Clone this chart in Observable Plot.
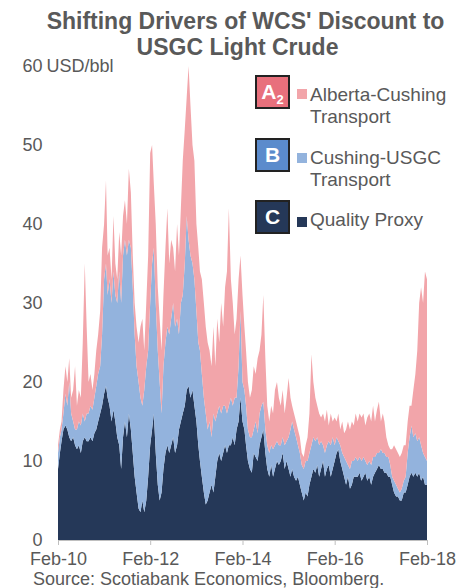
<!DOCTYPE html>
<html>
<head>
<meta charset="utf-8">
<script src="https://cdn.jsdelivr.net/npm/d3@7"></script>
<script src="https://cdn.jsdelivr.net/npm/@observablehq/plot@0.6"></script>
<style>
  body { margin: 0; background: #fff; font-family: "Liberation Sans", Arial, sans-serif; }
  #wrap { position: relative; width: 467px; height: 588px; overflow: hidden; }
  #chart { position: absolute; left: 0; top: 0; }
  .t { position: absolute; top: 8px; text-align: center; font-weight: bold; font-size: 23px; line-height: 26px; color: #595959; white-space: nowrap; }
  .box { position: absolute; left: 255px; width: 35px; height: 34px; box-sizing: border-box; border: 2px solid #222; color: #fff; font-weight: bold; font-size: 21px; text-align: center; line-height: 30px; }
  .box sub { font-size: 13px; vertical-align: -5px; line-height: 0; }
  .sq { position: absolute; left: 297px; width: 10px; height: 10px; }
  .lt { position: absolute; left: 310px; font-size: 19px; line-height: 22px; color: #595959; white-space: nowrap; }
  #source { position: absolute; left: 33px; top: 570px; font-size: 18px; line-height: 18px; color: #595959; white-space: nowrap; }
</style>
</head>
<body>
<div id="wrap">
  <div id="chart"></div>
  <div class="t" style="left:0;width:491px;top:8px;">Shifting Drivers of WCS' Discount to</div>
  <div class="t" style="left:0;width:475px;top:34px;">USGC Light Crude</div>

  <div class="box" style="top:75px;background:#e8707c;">A<sub>2</sub></div>
  <div class="sq" style="top:89px;background:#f2a5aa;"></div>
  <div class="lt" style="top:84px;">Alberta-Cushing<br>Transport</div>

  <div class="box" style="top:138px;background:#5b8bcc;">B</div>
  <div class="sq" style="top:153px;background:#93b3dd;"></div>
  <div class="lt" style="top:147px;">Cushing-USGC<br>Transport</div>

  <div class="box" style="top:200px;background:#253858;">C</div>
  <div class="sq" style="top:217px;background:#253858;"></div>
  <div class="lt" style="top:209px;">Quality Proxy</div>

  <div id="source">Source: Scotiabank Economics, Bloomberg.</div>
</div>
<script>
// Series names (stack order bottom -> top) and colours
const seriesNames = ["Quality Proxy", "Cushing-USGC Transport", "Alberta-Cushing Transport"];
const seriesColors = ["#253858", "#93b3dd", "#f2a5aa"];

const qualityProxy = [
  9, 11, 12.5, 14, 14.5, 14, 13, 12.5, 13, 12,
  11.5, 12, 11, 12.5, 13, 12.5, 12.5, 13, 12.5, 13.5,
  14, 15, 16, 17, 18.5, 19.5, 18, 17, 15, 16.5,
  15, 13, 12, 9, 13, 15, 13, 16, 14, 11,
  8, 6, 4, 3.5, 5, 3.5, 5, 8, 12, 14,
  16, 11, 7, 5, 6, 9, 11, 12, 11, 12,
  13, 11, 12, 14, 15, 16, 17, 19, 19.5, 18,
  19, 17, 15, 12, 10, 8, 6, 4.5, 5, 6,
  7, 6, 8, 10, 11, 10, 11, 12, 11, 12,
  12, 13, 12, 14, 15, 18, 15, 14, 12, 10,
  9, 8.5, 11, 10.5, 10, 12, 13, 14, 11, 9,
  8, 9.5, 8, 9, 10, 9.5, 10, 11, 9, 10,
  9, 8, 9, 8, 7.5, 8, 7, 6, 5, 6,
  5.5, 7, 8, 9, 8.5, 9.5, 8, 9, 10, 8,
  9, 9.5, 8, 9, 10, 11, 11.5, 10, 9, 8,
  7, 8, 6.5, 7, 8, 8, 8, 8.5, 7.5, 8,
  8.5, 7.5, 8, 7, 8, 8.5, 9, 9.5, 9, 9,
  8.5, 8.5, 8, 8, 7, 6, 5.5, 5.5, 5, 5,
  6, 6, 7, 8, 8.5, 8, 8.5, 8, 8.5, 7.5,
  8, 7, 7
];
const cushingUSGC = [
  2, 2, 1.5, 2, 4, 3, 7, 3.5, 2, 2,
  2.5, 3, 3.5, 3.5, 2, 3.5, 3.5, 4, 4, 4.5,
  5.5, 6, 6, 9, 14.5, 15.5, 13, 16, 15, 17.5,
  16, 17, 22, 21, 23, 23, 23, 22, 23, 21,
  18, 16, 16, 14.5, 12, 15.5, 17, 16, 18, 21,
  21, 19, 17, 15, 10, 13, 14, 15, 15, 16,
  17, 16, 16, 12, 15, 15, 18, 22, 18.5, 18,
  16, 16, 14, 13, 14, 13, 12, 11.5, 9, 9,
  6, 10, 7, 6, 6, 6, 6, 5, 5, 5,
  6, 4, 6, 4, 7, 11, 5, 5, 5, 4,
  4, 4.5, 3, 4.5, 3.5, 4, 4, 3.5, 3, 3,
  3, 2.5, 3.5, 3, 2.5, 2.5, 2, 2, 3, 2.5,
  4, 6, 6, 6, 5.5, 4, 4, 3.5, 4, 4,
  4.5, 4, 4, 4, 4, 3.5, 4, 3.5, 2, 3,
  3, 3, 4, 4, 2, 2, 1, 2, 2, 2.5,
  3, 1.5, 2.5, 3, 2, 2.5, 2, 2, 2.5, 2.5,
  1.5, 2, 2, 2.5, 2.5, 2, 2, 1.5, 2.5, 2,
  2.5, 2, 2.5, 1.5, 1, 1.5, 1.5, 1, 1, 1.5,
  1.5, 2, 4, 5, 6, 5, 5, 4.5, 4.5, 4.5,
  3, 3.5, 3
];
const albertaCushing = [
  1, 1, 1, 3, 3.5, 3, 3, 2, 4, 8,
  3, 4, 3.5, 9, 20, 11, 4, 4, 2.5, 3,
  4.5, 5, 7, 11, 7, 10.5, 5, 4, 3, 7,
  4, 3, 5, 6, 5, 5, 4, 9, 7, 4,
  4, 5, 5, 9, 11, 5, 8, 12, 19, 15,
  8, 10, 8, 8, 8, 9, 12, 15, 9, 10,
  7, 7, 12, 10, 12, 17, 17, 15, 22, 19,
  15, 15, 11, 12, 10, 12, 12, 11, 11, 9,
  9, 11, 7, 12, 8, 14, 10, 15, 18, 25,
  15, 13, 8, 10, 11, 7, 11, 8, 7, 6,
  5, 6, 8, 6, 9.5, 8, 9, 13.5, 9, 5,
  4, 5, 4.5, 7, 7.5, 6, 5, 6, 4, 5.5,
  7.5, 4, 2, 2, 2, 2, 2, 1.5, 1.5, 2,
  3, 5, 11.5, 7, 5.5, 4, 4, 3, 4, 4,
  4.5, 2, 4, 2, 3.5, 2, 3.5, 2, 4, 3,
  4, 5.5, 5, 5, 4.5, 5.5, 5, 5.5, 5.5, 5.5,
  4.5, 6, 6, 5.5, 6.5, 4.5, 5.5, 6.5, 3.5, 5,
  4, 2.5, 1.5, 2, 3.5, 4.5, 4.5, 4.5, 4.5, 4.5,
  4.5, 4, 4, 4, 2.5, 6, 7.5, 11.5, 17, 20,
  19, 23.5, 23
];

// Axis ticks
const xTickYears = [2010, 2012, 2014, 2016, 2018];
const yTicks = [0, 10, 20, 30, 40, 50, 60];

const start = new Date(Date.UTC(2010, 1, 1));
const end = new Date(Date.UTC(2018, 1, 1));
const dateAt = i => {
  const m = d3.utcMonth.offset(start, Math.floor(i / 2));
  return i % 2 ? d3.utcDay.offset(m, 15) : m;
};

const seriesArrays = [qualityProxy, cushingUSGC, albertaCushing];
const data = [];
seriesArrays.forEach((arr, s) => {
  arr.forEach((v, i) => data.push({date: dateAt(i), series: seriesNames[s], value: v}));
});

const tickDates = xTickYears.map(y => new Date(Date.UTC(y, 1, 1)));

const chart = Plot.plot({
  width: 467,
  height: 588,
  marginLeft: 58,
  marginRight: 40,
  marginTop: 66,
  marginBottom: 48,
  style: {fontFamily: "'Liberation Sans', Arial, sans-serif", fontSize: "18px", color: "#595959", background: "transparent"},
  x: {type: "utc", domain: [start, end]},
  y: {domain: [0, 60]},
  color: {domain: seriesNames, range: seriesColors},
  marks: [
    Plot.areaY(data, {x: "date", y: "value", z: "series", fill: "series", order: seriesNames}),
    Plot.ruleY([0], {stroke: "#bfbfbf"}),
    Plot.axisX({ticks: tickDates, tickFormat: d3.utcFormat("%b-%y"), tickSize: 5, tickPadding: 7, stroke: "#bfbfbf", fill: "#595959", label: null}),
    Plot.axisY({ticks: yTicks, tickSize: 0, tickPadding: 16, fill: "#595959", label: null}),
    Plot.text(["USD/bbl"], {x: () => start, y: () => 60, text: d => d, textAnchor: "start", dx: -12, fill: "#595959"})
  ]
});
document.getElementById("chart").appendChild(chart);
</script>
</body>
</html>
